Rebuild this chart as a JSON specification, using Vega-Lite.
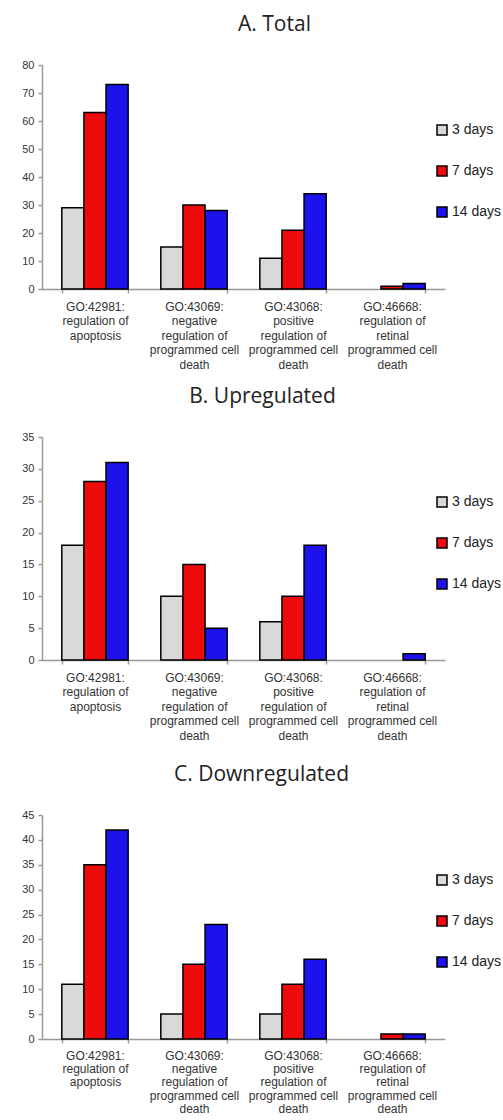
{
  "$schema": "https://vega.github.io/schema/vega-lite/v6.json",
  "background": "white",
  "padding": {"left": 5, "top": 14, "right": 5, "bottom": 0},
  "config": {
    "view": {"stroke": null},
    "font": "Liberation Sans",
    "title": {"font": "Open Sans", "fontSize": 21, "fontWeight": "normal", "color": "#222222", "anchor": "middle", "offset": 24},
    "axis": {"domainColor": "#999999", "domainWidth": 1.5, "tickColor": "#999999", "tickWidth": 1.5, "tickSize": 4, "labelFont": "Liberation Sans", "labelFontSize": 11, "labelColor": "#333333", "grid": false, "title": null},
    "axisY": {"minExtent": 37, "labelPadding": 4},
    "axisX": {"labelAngle": 0, "tickBand": "extent", "labelPadding": 8, "labelFontSize": 12, "labelLineHeight": 14.5, "labelOverlap": false, "labelLimit": 0, "labelBaseline": "top"},
    "legend": {"orient": "none", "title": null, "symbolType": "square", "symbolSize": 100, "symbolStrokeColor": "black", "symbolStrokeWidth": 1.5, "labelFont": "Liberation Sans", "labelFontSize": 14, "labelColor": "#222222", "rowPadding": 25, "labelOffset": 3}
  },
  "datasets": {
    "total": [
      {"term": "GO:42981:|regulation of|apoptosis", "time": "3 days", "count": 29},
      {"term": "GO:42981:|regulation of|apoptosis", "time": "7 days", "count": 63},
      {"term": "GO:42981:|regulation of|apoptosis", "time": "14 days", "count": 73},
      {"term": "GO:43069:|negative|regulation of|programmed cell|death", "time": "3 days", "count": 15},
      {"term": "GO:43069:|negative|regulation of|programmed cell|death", "time": "7 days", "count": 30},
      {"term": "GO:43069:|negative|regulation of|programmed cell|death", "time": "14 days", "count": 28},
      {"term": "GO:43068:|positive|regulation of|programmed cell|death", "time": "3 days", "count": 11},
      {"term": "GO:43068:|positive|regulation of|programmed cell|death", "time": "7 days", "count": 21},
      {"term": "GO:43068:|positive|regulation of|programmed cell|death", "time": "14 days", "count": 34},
      {"term": "GO:46668:|regulation of|retinal|programmed cell|death", "time": "3 days", "count": 0},
      {"term": "GO:46668:|regulation of|retinal|programmed cell|death", "time": "7 days", "count": 1},
      {"term": "GO:46668:|regulation of|retinal|programmed cell|death", "time": "14 days", "count": 2}
    ],
    "up": [
      {"term": "GO:42981:|regulation of|apoptosis", "time": "3 days", "count": 18},
      {"term": "GO:42981:|regulation of|apoptosis", "time": "7 days", "count": 28},
      {"term": "GO:42981:|regulation of|apoptosis", "time": "14 days", "count": 31},
      {"term": "GO:43069:|negative|regulation of|programmed cell|death", "time": "3 days", "count": 10},
      {"term": "GO:43069:|negative|regulation of|programmed cell|death", "time": "7 days", "count": 15},
      {"term": "GO:43069:|negative|regulation of|programmed cell|death", "time": "14 days", "count": 5},
      {"term": "GO:43068:|positive|regulation of|programmed cell|death", "time": "3 days", "count": 6},
      {"term": "GO:43068:|positive|regulation of|programmed cell|death", "time": "7 days", "count": 10},
      {"term": "GO:43068:|positive|regulation of|programmed cell|death", "time": "14 days", "count": 18},
      {"term": "GO:46668:|regulation of|retinal|programmed cell|death", "time": "3 days", "count": 0},
      {"term": "GO:46668:|regulation of|retinal|programmed cell|death", "time": "7 days", "count": 0},
      {"term": "GO:46668:|regulation of|retinal|programmed cell|death", "time": "14 days", "count": 1}
    ],
    "down": [
      {"term": "GO:42981:|regulation of|apoptosis", "time": "3 days", "count": 11},
      {"term": "GO:42981:|regulation of|apoptosis", "time": "7 days", "count": 35},
      {"term": "GO:42981:|regulation of|apoptosis", "time": "14 days", "count": 42},
      {"term": "GO:43069:|negative|regulation of|programmed cell|death", "time": "3 days", "count": 5},
      {"term": "GO:43069:|negative|regulation of|programmed cell|death", "time": "7 days", "count": 15},
      {"term": "GO:43069:|negative|regulation of|programmed cell|death", "time": "14 days", "count": 23},
      {"term": "GO:43068:|positive|regulation of|programmed cell|death", "time": "3 days", "count": 5},
      {"term": "GO:43068:|positive|regulation of|programmed cell|death", "time": "7 days", "count": 11},
      {"term": "GO:43068:|positive|regulation of|programmed cell|death", "time": "14 days", "count": 16},
      {"term": "GO:46668:|regulation of|retinal|programmed cell|death", "time": "3 days", "count": 0},
      {"term": "GO:46668:|regulation of|retinal|programmed cell|death", "time": "7 days", "count": 1},
      {"term": "GO:46668:|regulation of|retinal|programmed cell|death", "time": "14 days", "count": 1}
    ]
  },
  "spacing": 23,
  "resolve": {"scale": {"x": "independent", "y": "independent", "color": "independent", "xOffset": "independent"}, "legend": {"color": "independent"}, "axis": {"x": "independent", "y": "independent"}},
  "vconcat": [
    {
      "spacing": 16,
      "resolve": {"scale": {"x": "independent", "y": "independent", "color": "independent", "xOffset": "independent"}, "legend": {"color": "independent"}, "axis": {"x": "independent", "y": "independent"}},
      "vconcat": [
        {
          "title": {"text": "A. Total", "dx": 31},
          "data": {"name": "total"},
          "width": 403, "height": 224,
          "mark": {"type": "bar", "stroke": "black", "strokeWidth": 1.5},
          "encoding": {
            "x": {"field": "term", "type": "nominal", "sort": null, "scale": {"paddingInner": 0.33, "paddingOuter": 0.2}, "axis": {"labelExpr": "split(datum.label, '|')"}},
            "xOffset": {"field": "time", "type": "nominal", "sort": ["3 days", "7 days", "14 days"]},
            "y": {"field": "count", "type": "quantitative", "scale": {"domain": [0, 80]}, "axis": {"values": [0, 10, 20, 30, 40, 50, 60, 70, 80]}},
            "color": {"field": "time", "type": "nominal", "sort": ["3 days", "7 days", "14 days"], "scale": {"domain": ["3 days", "7 days", "14 days"], "range": ["#d9d9d9", "#ee0b0b", "#1e12ec"]}, "legend": {"legendX": 393, "legendY": 58}},
            "strokeOpacity": {"condition": {"test": "datum.count == 0", "value": 0}, "value": 1}
          }
        },
        {
          "title": {"text": "B. Upregulated", "dx": 19},
          "data": {"name": "up"},
          "width": 403, "height": 223,
          "mark": {"type": "bar", "stroke": "black", "strokeWidth": 1.5},
          "encoding": {
            "x": {"field": "term", "type": "nominal", "sort": null, "scale": {"paddingInner": 0.33, "paddingOuter": 0.2}, "axis": {"labelExpr": "split(datum.label, '|')"}},
            "xOffset": {"field": "time", "type": "nominal", "sort": ["3 days", "7 days", "14 days"]},
            "y": {"field": "count", "type": "quantitative", "scale": {"domain": [0, 35]}, "axis": {"values": [0, 5, 10, 15, 20, 25, 30, 35]}},
            "color": {"field": "time", "type": "nominal", "sort": ["3 days", "7 days", "14 days"], "scale": {"domain": ["3 days", "7 days", "14 days"], "range": ["#d9d9d9", "#ee0b0b", "#1e12ec"]}, "legend": {"legendX": 393, "legendY": 58}},
            "strokeOpacity": {"condition": {"test": "datum.count == 0", "value": 0}, "value": 1}
          }
        }
      ]
    },
    {
      "title": {"text": "C. Downregulated", "dx": 18},
      "data": {"name": "down"},
      "width": 403, "height": 224,
      "mark": {"type": "bar", "stroke": "black", "strokeWidth": 1.5},
      "encoding": {
        "x": {"field": "term", "type": "nominal", "sort": null, "scale": {"paddingInner": 0.33, "paddingOuter": 0.2}, "axis": {"labelExpr": "split(datum.label, '|')", "labelLineHeight": 13.4, "labelPadding": 7}},
        "xOffset": {"field": "time", "type": "nominal", "sort": ["3 days", "7 days", "14 days"]},
        "y": {"field": "count", "type": "quantitative", "scale": {"domain": [0, 45]}, "axis": {"values": [0, 5, 10, 15, 20, 25, 30, 35, 40, 45]}},
        "color": {"field": "time", "type": "nominal", "sort": ["3 days", "7 days", "14 days"], "scale": {"domain": ["3 days", "7 days", "14 days"], "range": ["#d9d9d9", "#ee0b0b", "#1e12ec"]}, "legend": {"legendX": 393, "legendY": 58}},
        "strokeOpacity": {"condition": {"test": "datum.count == 0", "value": 0}, "value": 1}
      }
    }
  ]
}
